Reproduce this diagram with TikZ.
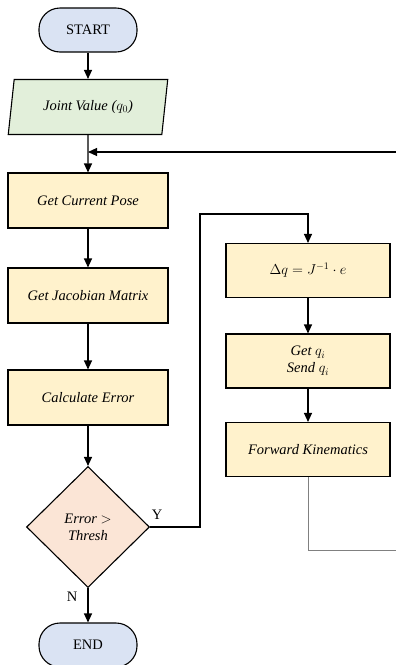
\documentclass[tikz,border=0pt]{standalone}
\usepackage{fontspec}
\setmainfont{Liberation Serif}
\usetikzlibrary{shapes.geometric,arrows.meta}

\definecolor{termblue}{HTML}{DAE3F3}
\definecolor{inputgreen}{HTML}{E2EFDA}
\definecolor{procyellow}{HTML}{FFF2CC}
\definecolor{decpeach}{HTML}{FBE5D6}

\tikzset{
  boxbase/.style={draw, line width=1.1pt, inner sep=0.75pt, align=center,
    font=\fontsize{14.5}{17}\selectfont\itshape},
  terminal/.style={boxbase, fill=termblue, rounded corners=21pt,
    minimum width=98pt, minimum height=44pt, font=\fontsize{14.5}{17}\selectfont},
  inputbox/.style={boxbase, fill=inputgreen, trapezium, trapezium left angle=76,
    trapezium right angle=104, trapezium stretches=true,
    minimum width=160pt, minimum height=55pt},
  procbox/.style={boxbase, fill=procyellow, minimum width=160pt, minimum height=55pt},
  decbox/.style={boxbase, fill=decpeach, diamond, minimum width=123pt,
    minimum height=121pt, inner sep=0pt},
  flowlabel/.style={inner sep=0.75pt, font=\fontsize{14.5}{17}\selectfont},
  flow/.style={line width=1.1pt, -{Triangle[width=8pt,length=9pt]}},
  loopline/.style={line width=0.7pt, gray}
}

\begin{document}
\begin{tikzpicture}[x=1pt,y=1pt,yscale=-1,xscale=1]
    \useasboundingbox (0,0) rectangle (396,665);

    %Left column
    \node[terminal] (start) at (88,30) {START};
    \node[inputbox] (joint) at (88,107) {Joint Value ($q_{0}$)};
    \node[procbox] (pose) at (88,200.5) {Get Current Pose};
    \node[procbox] (jacob) at (88,295.5) {Get Jacobian Matrix};
    \node[procbox] (error) at (88,397.5) {Calculate Error};
    \node[decbox] (check) at (88,527) {Error $>$\\Thresh};
    \node[terminal] (finish) at (88,645) {END};

    %Right column
    \node[procbox, minimum width=164pt, minimum height=54pt] (dq) at (308,270.5) {$\Delta q = J^{-1}\cdot e$};
    \node[procbox, minimum width=164pt, minimum height=54pt] (send) at (308,361) {Get $q_{i}$\\Send $q_{i}$};
    \node[procbox, minimum width=164pt, minimum height=54pt] (fk) at (308,449.5) {Forward Kinematics};

    % Text Node
    \node[flowlabel] (yes) at (157,515) {Y};
    % Text Node
    \node[flowlabel] (no) at (72,597) {N};

    %Loop points
    \coordinate (loopin) at (88,152);
    \coordinate (loopedge) at (396,152);
    \coordinate (yturn) at (200,214);
    \coordinate (loopout) at (396,550);

    %Connectors
    \draw[flow] (start) -- (joint);
    \draw[flow] (joint) -- (pose);
    \draw[flow] (loopedge) -- (loopin);
    \draw[flow] (pose) -- (jacob);
    \draw[flow] (jacob) -- (error);
    \draw[flow] (error) -- (check);
    \draw[flow] (check) -- (finish);
    \draw[flow] (check.east) -| (yturn) -| (dq.north);
    \draw[flow] (dq) -- (send);
    \draw[flow] (send) -- (fk);
    \draw[loopline] (fk.south) |- (loopout);

\end{tikzpicture}
\end{document}
